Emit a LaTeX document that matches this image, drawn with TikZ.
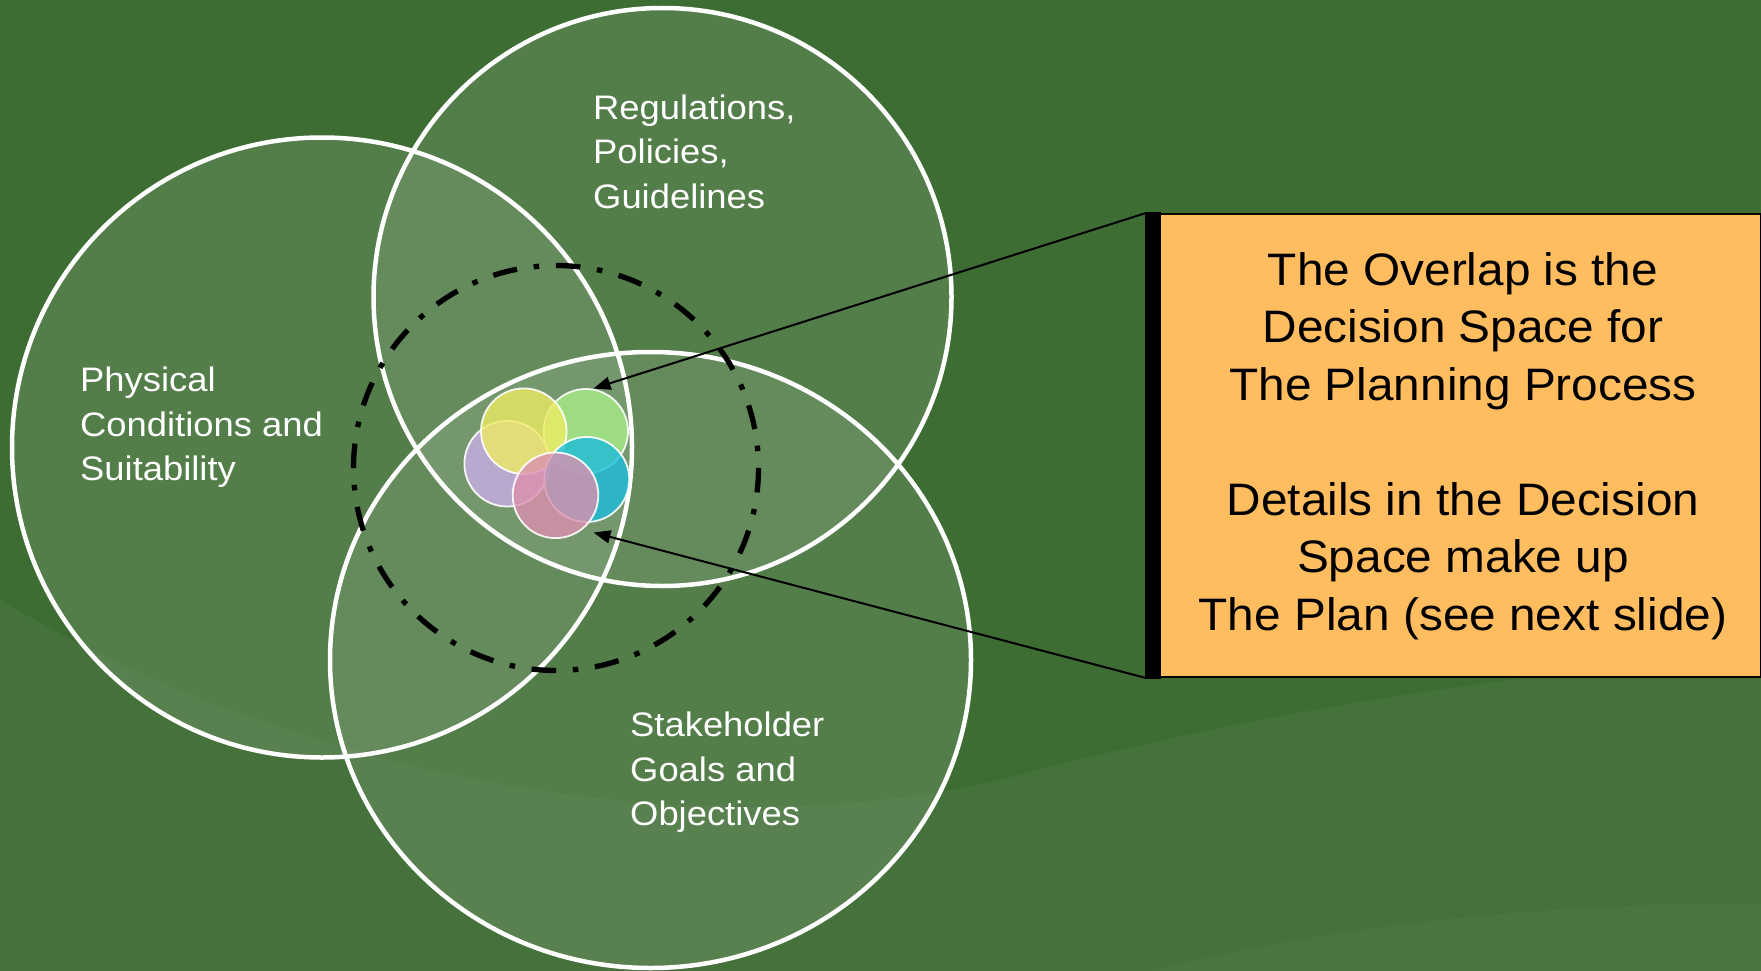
\documentclass[tikz,border=0pt]{standalone}
\usepackage{fontspec}
\setmainfont{Liberation Sans}
\usetikzlibrary{arrows.meta}
\definecolor{bggreen}{RGB}{62,109,51}
\definecolor{boxorange}{RGB}{255,189,96}
\definecolor{cyel}{RGB}{238,235,100}
\definecolor{cgrn}{RGB}{169,238,135}
\definecolor{cpur}{RGB}{202,174,231}
\definecolor{ccya}{RGB}{27,189,220}
\definecolor{cpnk}{RGB}{219,144,175}
\begin{document}
\begin{tikzpicture}[x=1pt,y=-1pt,
  ringfill/.style={fill=white, fill opacity=0.11},
  ringline/.style={draw=white, line width=4.5pt},
  dashring/.style={draw=black, line width=5.3pt, dash pattern=on 24.5pt off 16.8pt on 5.5pt off 16.82pt},
  small/.style={draw=white, line width=1.8pt, draw opacity=0.9, fill opacity=0.8},
  lbl/.style={text=white, inner sep=0pt, anchor=base west, font=\fontsize{34}{44.5}\selectfont},
  boxtxt/.style={text=black, inner sep=0pt, anchor=base, font=\fontsize{45.5}{57.5}\selectfont},
  arr/.style={draw=black, line width=2pt, -{Triangle[length=17pt,width=13pt]}}]
\useasboundingbox (0,0) rectangle (1761,971);
% background
\fill[bggreen] (0,0) rectangle (1761,971);
\fill[white, opacity=0.035] (0,600) .. controls (300,780) and (700,850) .. (1000,780) .. controls (1300,700) and (1600,660) .. (1761,665) -- (1761,971) -- (0,971) -- cycle;
\fill[white, opacity=0.03] (1150,971) .. controls (1350,920) and (1600,900) .. (1761,905) -- (1761,971) -- cycle;
% big circles (fills)
\fill[ringfill] (322,447.5) circle[radius=310];
\fill[ringfill] (662.5,297) circle[radius=289];
\fill[ringfill] (650.5,660) ellipse[x radius=320.5, y radius=308];
% big circles (outlines)
\draw[ringline] (322,447.5) circle[radius=310];
\draw[ringline] (662.5,297) circle[radius=289];
\draw[ringline] (650.5,660) ellipse[x radius=320.5, y radius=308];
% decision space
\draw[dashring] (556,468) circle[radius=202.5];
% small circles
\filldraw[small, fill=cpur] (507.2,463.7) circle[radius=42.8];
\filldraw[small, fill=cgrn] (585.8,431.2) circle[radius=42.2];
\filldraw[small, fill=cyel] (523.8,431.2) circle[radius=42.8];
\filldraw[small, fill=ccya] (586.8,479.5) circle[radius=42.5];
\filldraw[small, fill=cpnk] (555.5,495.3) circle[radius=42.8];
% labels
\node[lbl] (reg) at (593,119.5) {\scalebox{1.07}[1]{\begin{tabular}[t]{@{}l@{}}Regulations,\\Policies,\\Guidelines\end{tabular}}};
\node[lbl] (phys) at (80,391.7) {\scalebox{1.07}[1]{\begin{tabular}[t]{@{}l@{}}Physical\\Conditions and\\Suitability\end{tabular}}};
\node[lbl] (stake) at (630,736.7) {\scalebox{1.07}[1]{\begin{tabular}[t]{@{}l@{}}Stakeholder\\Goals and\\Objectives\end{tabular}}};
% callout box
\node[draw=black, line width=2pt, fill=boxorange, minimum width=614pt, minimum height=463pt, inner sep=0pt, anchor=north west] (box) at (1146,213) {};
\fill[black] ([shift={(-1pt,1pt)}]box.north west) rectangle ([shift={(15pt,-1pt)}]box.south west);
\node[boxtxt] (boxtext) at (1463,285) {\scalebox{1.05}[1]{\begin{tabular}[t]{@{}c@{}}The Overlap is the\\Decision Space for\\The Planning Process\\ \\Details in the Decision\\Space make up\\The Plan (see next slide)\end{tabular}}};
% arrows
\coordinate (tip1) at (593.5,388.5);
\coordinate (tip2) at (593.5,532.5);
\draw[arr] (box.north west) -- (tip1);
\draw[arr] (box.south west) -- (tip2);
\end{tikzpicture}
\end{document}
